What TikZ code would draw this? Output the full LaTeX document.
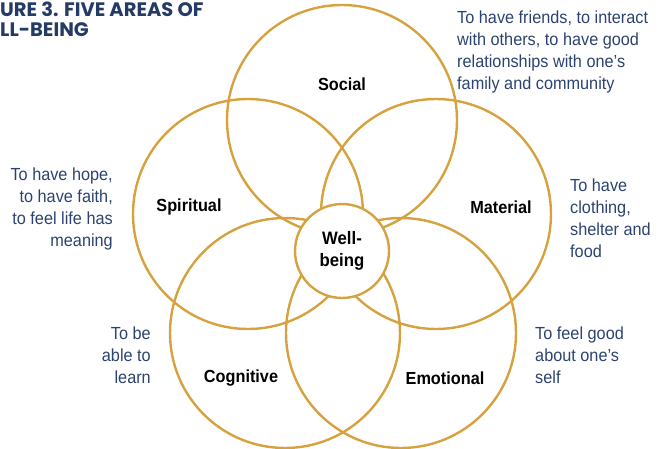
\documentclass[tikz,border=0pt]{standalone}
\usepackage{fontspec}
\setmainfont{Liberation Sans}[FakeStretch=0.93]
\newfontfamily\titlefont{Poppins}
\usepackage{tikz}
\usetikzlibrary{positioning}

\definecolor{ringgold}{HTML}{D6A23F}
\definecolor{notenavy}{HTML}{2C4370}
\definecolor{titlenavy}{HTML}{243B66}

\tikzset{
  area/.style={circle,draw=ringgold,line width=2.4pt,minimum size=230pt,inner sep=0pt},
  hub/.style={circle,draw=ringgold,fill=white,line width=2.4pt,minimum size=94pt,inner sep=0pt,
    font=\fontsize{18}{22}\selectfont\bfseries,align=center},
  arealabel/.style={font=\fontsize{17.5}{20}\selectfont\bfseries,text=black},
  note/.style={font=\fontsize{17.5}{22}\selectfont,text=notenavy,inner sep=0pt}
}

\begin{document}
\begin{tikzpicture}[x=1pt,y=-1pt]
        \useasboundingbox (0,0) rectangle (659,449);
        \begin{scope}
          % the five overlapping areas
          \foreach \name/\cx/\cy in {social/342/120,spiritual/248/214,material/436/214,cognitive/285/333,emotional/401/333} {
            \node[area] (\name) at (\cx,\cy) {};
          }
          \node[hub] (wellbeing) at (342,251) {Well-\\being};

          % names of the areas
          \node[arealabel] (socialname) at (342,84) {Social};
          \node[arealabel] (spiritualname) at (189,207) {Spiritual};
          \node[arealabel] (materialname) at (501,207) {Material};
          \node[arealabel] (cognitivename) at (241,378) {Cognitive};
          \node[arealabel] (emotionalname) at (445,378) {Emotional};
        \end{scope}

        % what each area means
        \node[note,align=left,anchor=north west] (socialnote) at (457,11) {To have friends, to interact\\with others, to have good\\relationships with one’s\\family and community};
        \node[note,align=right,anchor=north east] (spiritualnote) at (113,168) {To have hope,\\to have faith,\\to feel life has\\meaning};
        \node[note,align=left,anchor=north west] (materialnote) at (570,179) {To have\\clothing,\\shelter and\\food};
        \node[note,align=right,anchor=north east] (cognitivenote) at (151,327) {To be\\able to\\learn};
        \node[note,align=left,anchor=north west] (emotionalnote) at (535,327) {To feel good\\about one’s\\self};

        % title, cut at the left edge
        \node[anchor=north west,inner sep=0pt,align=left,text=titlenavy,
          font=\titlefont\fontsize{19.5}{19.5}\selectfont\bfseries] (title) at (0,2) {URE 3. FIVE AREAS OF\\LL-BEING};
      \end{tikzpicture}
\end{document}
